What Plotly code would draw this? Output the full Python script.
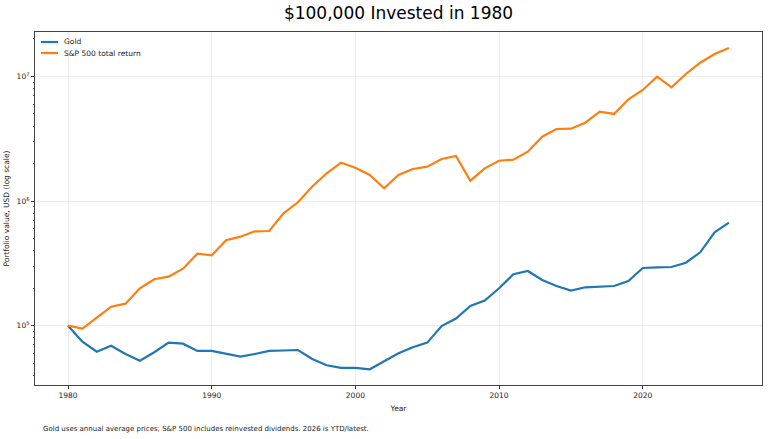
import plotly.graph_objects as go

years = list(range(1980, 2027))

gold = [100000, 74400, 61800, 69100, 59300, 52400, 61200, 73100, 71700, 62700,
        62700, 59300, 56400, 59300, 62700, 63200, 63800, 54100, 48100, 45800,
        45800, 44700, 52100, 60000, 67100, 73100, 99400, 114200, 143900, 159300,
        199600, 258500, 274800, 232700, 208300, 191000, 203300, 205600, 208300, 228500,
        290400, 294300, 295800, 320300, 388200, 561800, 670900]

sp500 = [100000, 94600, 115900, 142100, 150200, 199700, 235800, 247400, 286800, 378200,
         367300, 484600, 518000, 572300, 575400, 798000, 977600, 1309000, 1671000, 2033000,
         1854000, 1620000, 1267000, 1620000, 1809000, 1888000, 2178000, 2301000, 1458000, 1833000,
         2109000, 2148000, 2492000, 3288000, 3791000, 3811000, 4258000, 5219000, 5003000, 6561000,
         7795000, 9955000, 8185000, 10470000, 12900000, 15160000, 16940000]

series_names = ["Gold", "S&P 500 total return"]
series_colors = ["#1f77b4", "#ff7f0e"]

x_ticks = [1980, 1990, 2000, 2010, 2020]
y_ticks = [1e5, 1e6, 1e7]
y_tick_text = ["10<sup>5</sup>", "10<sup>6</sup>", "10<sup>7</sup>"]

FONT = "DejaVu Sans"
W, H = 768, 439
L, R, T, B = 35, 6, 32, 54
PW, PH = W - L - R, H - T - B


def px(xp):
    return (xp - L) / PW


def py(yp):
    return (H - B - yp) / PH


fig = go.Figure()
for name, vals, col in zip(series_names, [gold, sp500], series_colors):
    fig.add_trace(go.Scatter(x=years, y=vals, mode="lines", name=name,
                             line=dict(color=col, width=2.2)))

# compact legend (matplotlib-style), drawn in paper coordinates
shapes = []
annotations = []
for i, (name, col) in enumerate(zip(series_names, series_colors)):
    yy = 42 + 11 * i
    shapes.append(dict(type="line", xref="paper", yref="paper",
                       x0=px(41), x1=px(58), y0=py(yy), y1=py(yy),
                       line=dict(color=col, width=2.2)))
    annotations.append(dict(text=name, xref="paper", yref="paper",
                            x=px(62), y=py(yy), xanchor="left", yanchor="middle",
                            showarrow=False,
                            font=dict(family=FONT, size=7.5, color="#222")))

annotations.append(dict(
    text="Gold uses annual average prices; S&P 500 includes reinvested dividends. 2026 is YTD/latest.",
    xref="paper", yref="paper", x=px(41), y=py(429),
    xanchor="left", yanchor="middle", showarrow=False,
    font=dict(family=FONT, size=7, color="#222")))

fig.update_layout(
    width=W, height=H,
    margin=dict(l=L, r=R, t=T, b=B),
    paper_bgcolor="white", plot_bgcolor="white",
    font=dict(family=FONT, size=7.5, color="#222"),
    title=dict(text="$100,000 Invested in 1980", x=398.5 / W, xanchor="center",
               y=1 - 13 / H, yanchor="middle",
               font=dict(family=FONT, size=17, color="black")),
    showlegend=False,
    shapes=shapes,
    annotations=annotations,
)

fig.update_xaxes(
    range=[1977.7, 2028.3], tickvals=x_ticks, ticks="outside", ticklen=3,
    tickcolor="#333", showgrid=True, gridcolor="#ececec", gridwidth=1,
    showline=True, linecolor="#444", linewidth=1, mirror=True, zeroline=False,
    title=dict(text="Year", standoff=6, font=dict(family=FONT, size=7.5)),
)
fig.update_yaxes(
    type="log", range=[4.524, 7.357], tickvals=y_ticks, ticktext=y_tick_text,
    ticks="outside", ticklen=3, tickcolor="#333",
    showgrid=True, gridcolor="#ececec", gridwidth=1,
    showline=True, linecolor="#444", linewidth=1, mirror=True, zeroline=False,
    minor=dict(ticks="outside", ticklen=1.5, tickcolor="#555", showgrid=False,
               tickvals=[m * 10 ** e for e in (4, 5, 6, 7) for m in range(2, 10)]),
    title=dict(text="Portfolio value, USD (log scale)", standoff=5,
               font=dict(family=FONT, size=7.5)),
)

fig.write_html("out.html")
